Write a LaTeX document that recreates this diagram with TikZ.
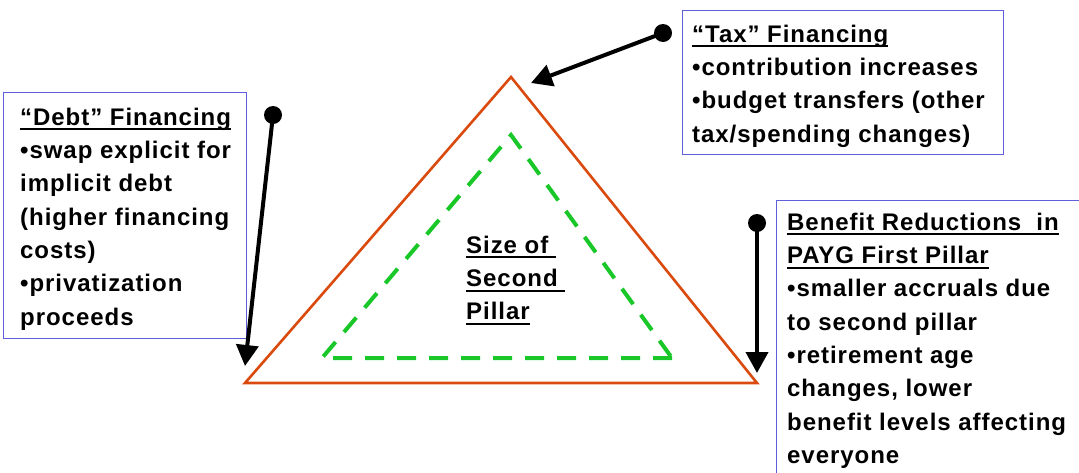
\documentclass[tikz,border=0pt]{standalone}
\usepackage{fontspec}
\setmainfont{Liberation Sans}[LetterSpace=4]
\usetikzlibrary{arrows.meta}
\definecolor{boxblue}{RGB}{95,95,220}
\definecolor{triorange}{RGB}{218,74,14}
\definecolor{dashgreen}{RGB}{25,200,40}
\newcommand\myul[1]{\setbox0\hbox{#1}\rlap{\rule[-5pt]{\wd0}{1.8pt}}\box0}
\begin{document}
\begin{tikzpicture}[x=1pt,y=-1pt,
  infobox/.style={draw=boxblue, line width=1.2pt, anchor=north west, inner sep=0pt, fill=white},
  txt/.style={anchor=north west, inner sep=0pt, align=left, font=\fontsize{24}{33.3}\selectfont\bfseries},
  dotnode/.style={circle, fill=black, inner sep=0pt, minimum size=18pt},
  arr/.style={line width=4pt, -{Triangle[width=22pt,length=21pt]}},
  outer/.style={draw=triorange, line width=2.6pt, line join=miter},
  inner/.style={draw=dashgreen, line width=4pt, dash pattern=on 19pt off 13pt}]
\useasboundingbox (0,0) rectangle (1079,472);
\clip (0,0) rectangle (1079,472);
% boxes
\node[infobox, minimum width=243pt, minimum height=246pt] (debtbox) at (3,92) {};
\node[infobox, minimum width=321pt, minimum height=144pt] (taxbox) at (682,10) {};
\node[infobox, minimum width=330pt, minimum height=300pt] (benbox) at (776,200) {};
% texts
\node[txt] (debttxt) at (20,101.7) {\strut\myul{“Debt” Financing}\\
•swap explicit for\\
implicit debt\\
(higher financing\\
costs)\\
•privatization\\
proceeds};
\node[txt] (taxtxt) at (692,18.7) {\strut\myul{“Tax” Financing}\\
•contribution increases\\
•budget transfers (other\\
tax/spending changes)};
\node[txt] (bentxt) at (787,206.7) {\strut\myul{Benefit Reductions\ \ in}\\
\myul{PAYG First Pillar}\\
•smaller accruals due\\
to second pillar\\
•retirement age\\
changes, lower\\
benefit levels affecting\\
everyone};
% triangles
\coordinate (tl) at (245,383);
\coordinate (ta) at (511,77);
\coordinate (tr) at (757,383);
\draw[outer] (tl) -- (ta) -- (tr) -- cycle;
\coordinate (gl) at (322,358);
\coordinate (ga) at (511,135);
\coordinate (gr) at (672,358);
\draw[inner] (gr) -- (gl) -- (ga) -- cycle;
\node[txt] (size) at (466,229.7) {\strut\myul{Size of\ }\\
\myul{Second\ }\\
\myul{Pillar}};
% arrows
\node[dotnode] (taxdot) at (663,33) {};
\coordinate (taxtip) at (531,83);
\draw[arr] (taxdot.center) -- (taxtip);
\node[dotnode] (debtdot) at (273,115) {};
\coordinate (debttip) at (245,366);
\draw[arr] (debtdot.center) -- (debttip);
\node[dotnode] (bendot) at (757,223) {};
\coordinate (bentip) at (757,373);
\draw[arr] (bendot.center) -- (bentip);
\end{tikzpicture}
\end{document}
